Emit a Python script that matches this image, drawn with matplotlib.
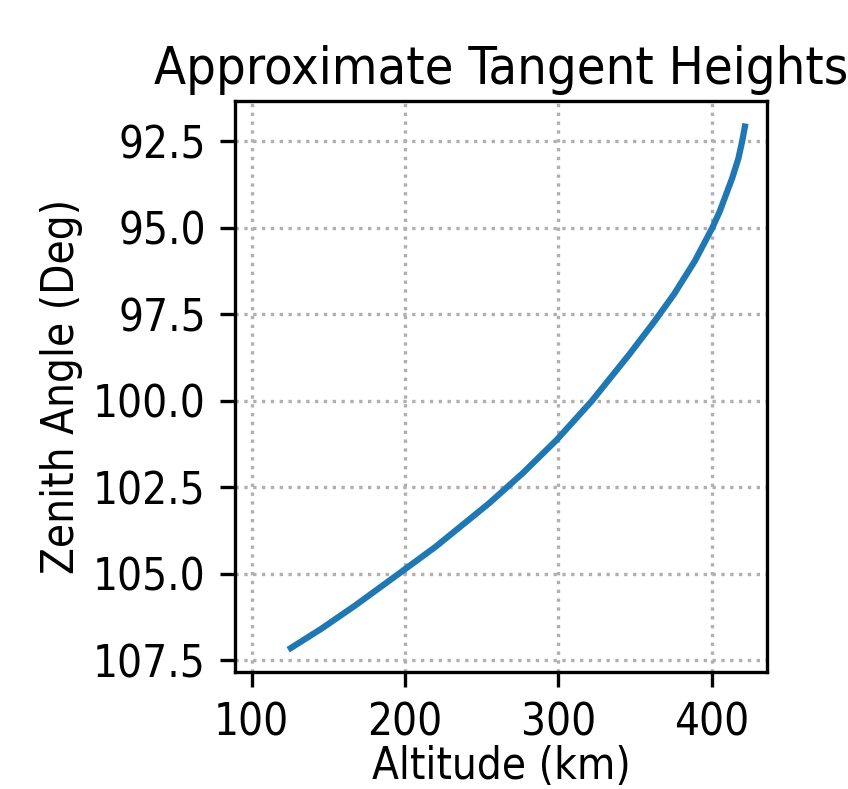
import matplotlib
matplotlib.use("Agg")
import matplotlib.pyplot as plt

# Values
zenith_deg = [92.07, 92.5, 93.0, 93.56, 94.52, 95.0, 95.96, 96.92, 97.69,
              98.65, 100.0, 101.13, 102.09, 102.96, 104.22, 105.0,
              105.92, 106.59, 107.15]
altitude_km = [421.8, 420.0, 417.5, 413.5, 405.4, 400.5, 389.1, 375.5, 363.0,
               346.5, 322.0, 299.0, 276.9, 255.0, 220.0, 196.0,
               167.5, 145.5, 125.5]

x_ticks = [100, 200, 300, 400]
y_ticks = [92.5, 95.0, 97.5, 100.0, 102.5, 105.0, 107.5]

plt.rcParams["font.family"] = "DejaVu Sans"
plt.rcParams["font.stretch"] = "condensed"

fig = plt.figure(figsize=(848 / 300, 789 / 300), dpi=300)
ax = fig.add_axes([0.277, 0.148, 0.628, 0.724])

ax.plot(altitude_km, zenith_deg, color="#1f77b4", linewidth=1.5)

ax.set_xlim(89, 436.5)
ax.set_ylim(107.85, 91.33)
ax.set_xticks(x_ticks)
ax.set_yticks(y_ticks)
ax.set_yticklabels([f"{v:.1f}" for v in y_ticks])
ax.grid(True, linestyle=":", color="#b0b0b0", linewidth=0.8)

ax.set_title("Approximate Tangent Heights", fontsize=12.5, pad=4)
ax.set_xlabel("Altitude (km)", fontsize=10.5)
ax.set_ylabel("Zenith Angle (Deg)", fontsize=10.5)
ax.xaxis.set_label_coords(0.5, -0.128)
ax.yaxis.set_label_coords(-0.285, 0.5)
ax.tick_params(labelsize=10.5)

fig.savefig("out.png", dpi=300)
